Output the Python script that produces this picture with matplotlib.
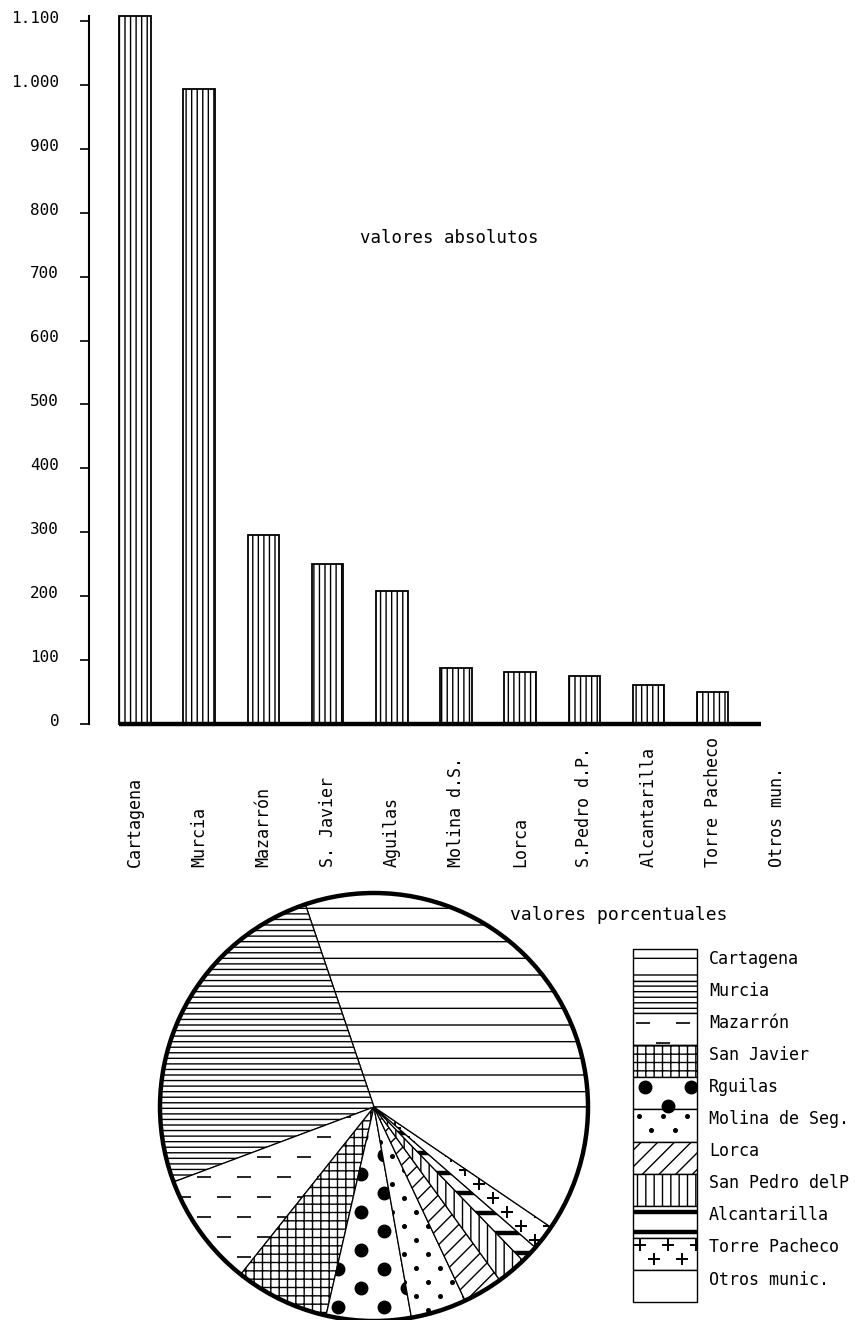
import matplotlib
matplotlib.use('Agg')
import matplotlib.pyplot as plt
import numpy as np
from matplotlib import transforms
from matplotlib.collections import LineCollection
from matplotlib.lines import Line2D
from matplotlib.patches import Circle

# ---------------- data ----------------
bar_labels = ['Cartagena', 'Murcia', 'Mazarrón', 'S. Javier', 'Aguilas',
              'Molina d.S.', 'Lorca', 'S.Pedro d.P.', 'Alcantarilla',
              'Torre Pacheco', 'Otros mun.']
bar_values = [1108, 993, 296, 251, 208, 88, 81, 75, 61, 50, 0]

ytick_values = [0, 100, 200, 300, 400, 500, 600, 700, 800, 900, 1000, 1100]
ytick_labels = ['0', '100', '200', '300', '400', '500', '600', '700',
                '800', '900', '1.000', '1.100']

pie_labels = ['Cartagena', 'Murcia', 'Mazarrón', 'San Javier', 'Rguilas',
              'Molina de Seg.', 'Lorca', 'San Pedro delP', 'Alcantarilla',
              'Torre Pacheco', 'Otros munic.']
pie_shares = [30.2, 25.5, 8.6, 7.1, 6.4, 4.2, 3.0, 2.25, 1.35, 1.9, 9.5]

title_bar = 'valores absolutos'
title_pie = 'valores porcentuales'

# ---------------- styles (fill textures per category) ----------------
pie_styles = ['-', '---', 'dash', '++', 'bigdot', 'smalldot', '//', '||',
              'thick', 'plus', '']

W, H = 855, 1320
plt.rcParams['font.family'] = ['DejaVu Sans Mono', 'DejaVu Sans']
plt.rcParams['hatch.linewidth'] = 1.0
fig = plt.figure(figsize=(W / 100, H / 100), dpi=100)
fig.patch.set_facecolor('white')

# ---------------- bar chart ----------------
ax = fig.add_axes([89 / W, 1 - 724 / H, 720 / W, (724 - 15.9) / H])
x = np.arange(len(bar_values))
bw = 0.49
edge_w = [1.3 if v > 0 else 0 for v in bar_values]
ax.bar(x, bar_values, width=bw, color='white', edgecolor='black',
       linewidth=edge_w, hatch='|||', clip_on=False, zorder=2)
ax.set_xlim(-0.717, 10.5)
ax.set_ylim(0, 1108)
for s in ['top', 'right', 'bottom']:
    ax.spines[s].set_visible(False)
ax.spines['left'].set_linewidth(1.5)
ax.spines['left'].set_bounds(0, 1108)
ax.set_yticks(ytick_values, ytick_labels)
ax.tick_params(axis='y', length=6.5, width=1.2, pad=15, labelsize=11.5)
ax.set_xticks([])
offset = transforms.ScaledTranslation(0, 3 / 72, fig.dpi_scale_trans)
for lab in ax.get_yticklabels():
    lab.set_transform(lab.get_transform() + offset)

ax.plot([x[0] - bw / 2, x[-1] - bw / 2], [0, 0], color='black', lw=3.2,
        clip_on=False, solid_capstyle='butt', zorder=3)

trans = transforms.blended_transform_factory(ax.transData, fig.transFigure)
for xi, lab in zip(x, bar_labels):
    ax.text(xi, 1 - 867 / H, lab, rotation=90, ha='center', va='bottom',
            fontsize=12, transform=trans)

fig.text(360 / W, 1 - 238 / H, title_bar, fontsize=12.5, ha='left', va='center')


# ---------------- texture helpers ----------------
def stagger_grid(ext, dx, dy):
    xs, ys = [], []
    rows = np.arange(ext.y1 - dy / 2, ext.y0, -dy)
    for j, yy in enumerate(rows):
        shift = (dx / 2) * (j % 2)
        cols = np.arange(ext.x0 + dx / 4 + shift, ext.x1, dx)
        xs.extend(cols)
        ys.extend([yy] * len(cols))
    return np.array(xs) / W, np.array(ys) / H


def add_texture(axis, patch, kind):
    if kind in ('', None):
        return
    if kind not in ('dash', 'bigdot', 'smalldot', 'thick', 'plus'):
        patch.set_hatch(kind)
        return
    ext = patch.get_window_extent()
    if kind == 'bigdot':
        xs, ys = stagger_grid(ext, 46, 19)
        art = Line2D(xs, ys, ls='none', marker='o', ms=9, mfc='black',
                     mec='black', transform=fig.transFigure)
    elif kind == 'smalldot':
        xs, ys = stagger_grid(ext, 24, 14)
        art = Line2D(xs, ys, ls='none', marker='o', ms=2.6, mfc='black',
                     mec='black', transform=fig.transFigure)
    elif kind == 'plus':
        xs, ys = stagger_grid(ext, 28, 14)
        art = Line2D(xs, ys, ls='none', marker='+', ms=9, mew=1.4,
                     color='black', transform=fig.transFigure)
    elif kind == 'dash':
        xs, ys = stagger_grid(ext, 40, 20)
        half = 7 / W
        segs = [[(a - half, b), (a + half, b)] for a, b in zip(xs, ys)]
        art = LineCollection(segs, colors='black', linewidths=1.2,
                             transform=fig.transFigure)
    else:  # thick horizontal bars
        rows = np.arange(ext.y1 - 6, ext.y0, -20) / H
        segs = [[(ext.x0 / W, r), (ext.x1 / W, r)] for r in rows]
        art = LineCollection(segs, colors='black', linewidths=3.2,
                             transform=fig.transFigure)
    art.set_zorder(1.5)
    art.set_clip_path(patch)
    axis.add_artist(art)


# ---------------- pie chart ----------------
R = 214
cx, cy = 374, 1107
axp = fig.add_axes([(cx - R) / W, 1 - (cy + R) / H, 2 * R / W, 2 * R / H])
wedges, _ = axp.pie(pie_shares, startangle=0, counterclock=True,
                    colors=['white'] * len(pie_shares),
                    wedgeprops=dict(edgecolor='black', linewidth=0.9))
axp.set_xlim(-1, 1)
axp.set_ylim(-1, 1)
axp.set_axis_off()
axp.add_patch(Circle((0, 0), 1, fill=False, ec='black', lw=3.2,
                     zorder=3, clip_on=False))
for w, st in zip(wedges, pie_styles):
    w.set_clip_on(False)
    add_texture(axp, w, st)

fig.text(510 / W, 1 - 915 / H, title_pie, fontsize=13, ha='left', va='center')

# ---------------- legend ----------------
n = len(pie_labels)
axl = fig.add_axes([633 / W, 1 - 1302 / H, 64 / W, 353 / H])
axl.set_xlim(0, 1)
axl.set_ylim(n, 0)
rects = axl.barh(np.arange(n), [1] * n, height=1, left=0, align='edge',
                 color='white', edgecolor='black', linewidth=1.0)
axl.set_xlim(0, 1)
axl.set_ylim(n, 0)
axl.set_axis_off()
for r, st in zip(rects, pie_styles):
    r.set_clip_on(False)
    add_texture(axl, r, st)
for i, lab in enumerate(pie_labels):
    axl.text(1.19, i + 0.3, lab, ha='left', va='center', fontsize=12,
             clip_on=False)

fig.savefig('out.png', dpi=100, facecolor='white')
